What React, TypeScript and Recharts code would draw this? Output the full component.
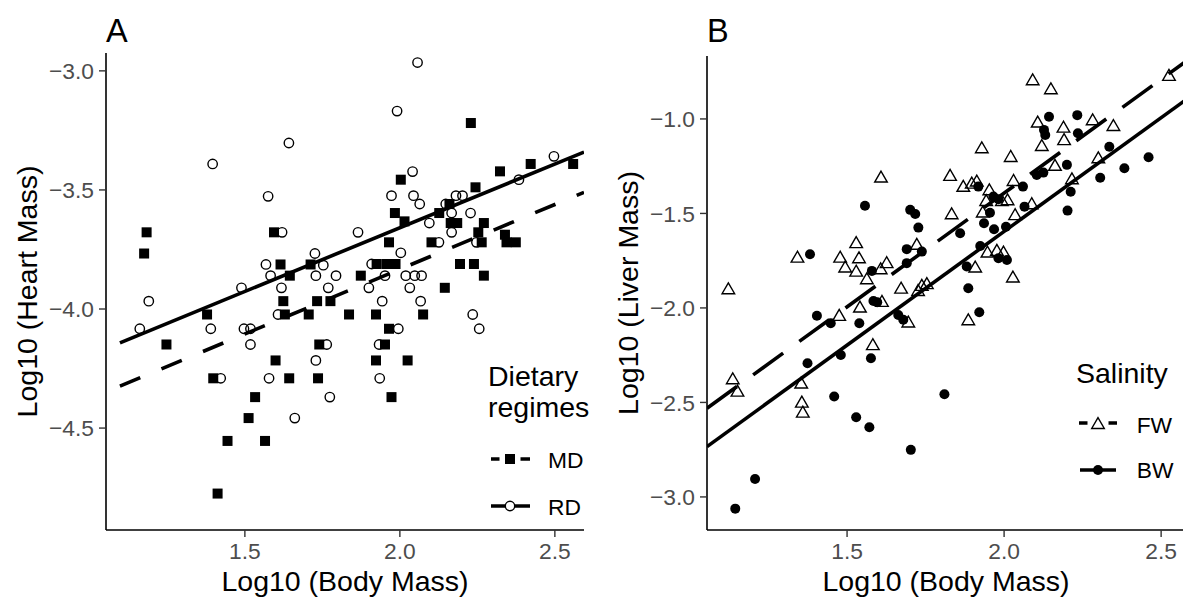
import React from 'react';
import { ScatterChart, Scatter, XAxis, YAxis, ReferenceLine, Legend } from 'recharts';

const FONT = '"Liberation Sans", Arial, Helvetica, sans-serif';
const TICK_COLOR = '#4D4D4D';

// ---------- Panel A : Heart mass vs body mass ----------
const mdPoints: [number, number][] = [
  [1.183, -3.678], [1.175, -3.767], [1.594, -3.678], [1.615, -3.813], [1.712, -3.813],
  [2.229, -3.219], [2.422, -3.391], [2.559, -3.391], [2.323, -3.422], [2.003, -3.457],
  [2.244, -3.489], [1.984, -3.597], [2.015, -3.632], [2.127, -3.597], [2.16, -3.559],
  [2.164, -3.639], [2.185, -3.639], [2.271, -3.639], [2.253, -3.678], [1.965, -3.72],
  [2.102, -3.72], [2.264, -3.72], [2.339, -3.688], [2.344, -3.72], [2.374, -3.72],
  [1.925, -3.811], [1.957, -3.811], [1.986, -3.811], [2.194, -3.811], [2.239, -3.811],
  [1.874, -3.86], [2.271, -3.86], [1.645, -3.86], [1.624, -3.967], [1.733, -3.967],
  [1.776, -3.967], [1.378, -4.023], [1.629, -4.023], [1.706, -4.023], [1.836, -4.023],
  [1.247, -4.149], [1.74, -4.149], [1.599, -4.216], [1.398, -4.291], [1.643, -4.291],
  [1.736, -4.291], [1.533, -4.37], [1.512, -4.458], [1.444, -4.554], [1.565, -4.554],
  [1.412, -4.775], [2.145, -3.911], [1.923, -4.023], [2.075, -4.023], [1.965, -4.083],
  [1.952, -4.149], [1.923, -4.216], [2.025, -4.216], [1.973, -4.37],
];
const rdPoints: [number, number][] = [
  [1.642, -3.303], [1.396, -3.391], [1.575, -3.527], [1.62, -3.678], [1.726, -3.767],
  [1.568, -3.813], [1.753, -3.816], [1.583, -3.86], [1.729, -3.86], [1.794, -3.86],
  [2.057, -2.965], [1.991, -3.169], [2.497, -3.359], [2.384, -3.457], [2.041, -3.423],
  [1.973, -3.524], [2.044, -3.524], [2.064, -3.559], [2.148, -3.559], [2.181, -3.524],
  [2.202, -3.524], [2.167, -3.597], [2.228, -3.597], [2.095, -3.639], [1.865, -3.678],
  [2.167, -3.678], [2.126, -3.72], [2.247, -3.72], [2.003, -3.764], [1.909, -3.811],
  [1.952, -3.86], [2.019, -3.86], [2.048, -3.86], [2.07, -3.86], [1.19, -3.967],
  [1.489, -3.911], [1.618, -3.911], [1.769, -3.911], [1.607, -4.023], [1.161, -4.083],
  [1.39, -4.083], [1.497, -4.083], [1.518, -4.083], [1.518, -4.149], [1.764, -4.149],
  [1.729, -4.216], [1.422, -4.291], [1.578, -4.291], [1.774, -4.37], [1.661, -4.458],
  [1.9, -3.911], [2.032, -3.911], [1.943, -3.967], [2.067, -3.967], [2.235, -4.023],
  [1.995, -4.083], [2.256, -4.083], [1.933, -4.149], [1.935, -4.291],
];
const mdFit: [number, number][] = [[1.097, -4.324], [2.594, -3.51]];
const rdFit: [number, number][] = [[1.097, -4.142], [2.594, -3.341]];
const heartTicks = [-4.5, -4.0, -3.5, -3.0];
const bodyTicks = [1.5, 2.0, 2.5];

// ---------- Panel B : Liver mass vs body mass ----------
const fwPoints: [number, number][] = [
  [1.608, -1.305], [1.529, -1.652], [1.722, -1.661], [1.342, -1.729], [1.478, -1.729],
  [1.538, -1.732], [1.494, -1.781], [1.529, -1.803], [1.626, -1.758], [1.607, -1.79],
  [1.563, -1.843], [1.672, -1.893], [1.122, -1.896], [1.726, -1.905], [2.091, -0.79],
  [2.149, -0.838], [2.525, -0.767], [2.282, -1.002], [2.348, -1.032], [2.107, -1.014],
  [2.189, -1.041], [2.191, -1.107], [2.12, -1.138], [1.929, -1.15], [2.021, -1.196],
  [2.3, -1.203], [2.162, -1.243], [1.828, -1.296], [1.87, -1.354], [1.897, -1.337],
  [1.913, -1.326], [2.03, -1.323], [2.216, -1.314], [1.953, -1.372], [1.943, -1.429],
  [1.993, -1.429], [2.011, -1.425], [2.088, -1.446], [1.932, -1.49], [1.833, -1.499],
  [2.035, -1.504], [1.947, -1.702], [1.977, -1.693], [1.998, -1.702], [1.908, -1.781],
  [2.028, -1.834], [1.738, -1.878], [1.754, -1.869], [1.475, -2.037], [1.541, -1.993],
  [1.611, -1.963], [1.695, -2.072], [1.582, -2.192], [1.136, -2.372], [1.151, -2.438],
  [1.354, -2.395], [1.356, -2.496], [1.359, -2.549], [1.886, -2.06],
];
const bwPoints: [number, number][] = [
  [1.557, -1.459], [1.701, -1.481], [1.717, -1.503], [1.727, -1.575], [1.382, -1.716],
  [1.69, -1.689], [1.69, -1.763], [1.579, -1.804], [2.143, -0.988], [2.233, -0.98],
  [2.127, -1.058], [2.131, -1.085], [2.235, -1.076], [2.335, -1.147], [2.46, -1.203],
  [2.383, -1.261], [2.2, -1.243], [2.104, -1.296], [2.125, -1.284], [2.306, -1.311],
  [1.918, -1.358], [2.06, -1.358], [2.212, -1.385], [1.966, -1.411], [1.982, -1.425],
  [2.065, -1.464], [1.955, -1.496], [2.202, -1.485], [1.936, -1.552], [1.968, -1.584],
  [2.006, -1.57], [1.86, -1.605], [1.738, -1.702], [1.924, -1.672], [1.982, -1.737],
  [2.009, -1.746], [1.881, -1.781], [1.886, -1.896], [1.404, -2.041], [1.448, -2.081],
  [1.539, -2.081], [1.584, -1.963], [1.596, -1.97], [1.663, -2.037], [1.679, -2.063],
  [1.48, -2.249], [1.374, -2.293], [1.576, -2.266], [1.459, -2.469], [1.529, -2.578],
  [1.571, -2.631], [1.703, -2.751], [1.207, -2.905], [1.144, -3.062], [1.921, -2.023],
  [1.81, -2.457],
];
const fwFit: [number, number][] = [[1.054, -2.531], [2.576, -0.699]];
const bwFit: [number, number][] = [[1.054, -2.734], [2.576, -0.902]];
const liverTicks = [-3.0, -2.5, -2.0, -1.5, -1.0];

const toData = (pts: [number, number][]) => pts.map(([x, y]) => ({ x, y }));
const toSeg = (pts: [number, number][]) => pts.map(([x, y]) => ({ x, y }));
const fmt = (v: number) => v.toFixed(1).replace('-', '\u2212');

// ---------- point shapes (ggplot shapes 1, 15, 2, 16) ----------
const OpenCircle = (p: any) => (
  <circle cx={p.cx} cy={p.cy} r={4.7} fill="none" stroke="#000" strokeWidth={1.4} />
);
const FilledSquare = (p: any) => (
  <rect x={p.cx - 5} y={p.cy - 5} width={10} height={10} fill="#000" />
);
const OpenTriangle = (p: any) => {
  const s = 12.6;
  const h = (s * Math.sqrt(3)) / 2;
  const pts = `${p.cx},${p.cy - h / 2} ${p.cx - s / 2},${p.cy + h / 2} ${p.cx + s / 2},${p.cy + h / 2}`;
  return <polygon points={pts} fill="none" stroke="#000" strokeWidth={1.4} strokeLinejoin="miter" />;
};
const FilledCircle = (p: any) => <circle cx={p.cx} cy={p.cy} r={5} fill="#000" />;

const axisLine = { stroke: '#000', strokeWidth: 1.6 };
const tickLine = { stroke: '#333', strokeWidth: 1.4 };
const tickStyle = { fill: TICK_COLOR, fontSize: 22.8, fontFamily: FONT };

const xTitle = (props: any) => {
  const vb = props.viewBox || { x: 106, y: 530, width: 478 };
  return (
    <text x={vb.x + vb.width / 2} y={vb.y + 61} textAnchor="middle" fontSize={28.5} fontFamily={FONT} fill="#000">
      Log10 (Body Mass)
    </text>
  );
};
const yTitle = (text: string) => (props: any) => {
  const vb = props.viewBox || { y: 53, height: 477 };
  const cy = vb.y + vb.height / 2;
  const x = 37;
  return (
    <text x={x} y={cy} transform={`rotate(-90, ${x}, ${cy})`} textAnchor="middle" fontSize={28.5} fontFamily={FONT} fill="#000">
      {text}
    </text>
  );
};

const legendWrap = { position: 'absolute' as const, left: 0, top: 0, width: 0, height: 0, overflow: 'visible' as const };

const LegendA = () => (
  <svg width={600} height={599} style={{ position: 'absolute', left: 0, top: 0, overflow: 'visible' }}>
    <text x={106} y={42} fontSize={32.5} fontFamily={FONT} fill="#000">A</text>
    <text x={488} y={386} fontSize={28.5} fontFamily={FONT} fill="#000">Dietary</text>
    <text x={488} y={417} fontSize={28.5} fontFamily={FONT} fill="#000">regimes</text>
    <line x1={491} x2={499.5} y1={459} y2={459} stroke="#000" strokeWidth={3.5} />
    <line x1={520.5} x2={530} y1={459} y2={459} stroke="#000" strokeWidth={3.5} />
    <FilledSquare cx={510} cy={459} />
    <text x={548} y={468} fontSize={22.8} fontFamily={FONT} fill="#000">MD</text>
    <line x1={491} x2={530} y1={506} y2={506} stroke="#000" strokeWidth={3.5} />
    <circle cx={510} cy={506} r={4.7} fill="#fff" stroke="#000" strokeWidth={1.4} />
    <text x={548} y={515} fontSize={22.8} fontFamily={FONT} fill="#000">RD</text>
  </svg>
);

const LegendB = () => (
  <svg width={600} height={599} style={{ position: 'absolute', left: 0, top: 0, overflow: 'visible' }}>
    <text x={106} y={42} fontSize={32.5} fontFamily={FONT} fill="#000">B</text>
    <text x={475} y={383} fontSize={28.5} fontFamily={FONT} fill="#000">Salinity</text>
    <line x1={478} x2={486.5} y1={423} y2={423} stroke="#000" strokeWidth={3.5} />
    <line x1={507.5} x2={516} y1={423} y2={423} stroke="#000" strokeWidth={3.5} />
    <OpenTriangle cx={497} cy={423} />
    <text x={535.7} y={433} fontSize={22.8} fontFamily={FONT} fill="#000">FW</text>
    <line x1={479} x2={515} y1={470} y2={470} stroke="#000" strokeWidth={3.5} />
    <FilledCircle cx={497} cy={470} />
    <text x={535.7} y={478} fontSize={22.8} fontFamily={FONT} fill="#000">BW</text>
  </svg>
);

export default function App() {
  return (
    <div style={{ position: 'absolute', left: 0, top: 0, width: 1183, height: 599, overflow: 'hidden', background: '#fff', fontFamily: FONT }}>
      <div style={{ position: 'absolute', left: 0, top: 0 }}>
        <ScatterChart width={600} height={599} margin={{ top: 53, right: 16, bottom: 0, left: 0 }}>
          <XAxis
            type="number" dataKey="x" domain={[1.052, 2.594]} allowDataOverflow ticks={bodyTicks}
            tickFormatter={fmt} height={69} axisLine={axisLine} tickLine={tickLine} tickSize={7} tickMargin={6}
            tick={tickStyle} label={xTitle}
          />
          <YAxis
            type="number" dataKey="y" domain={[-4.928, -2.925]} allowDataOverflow ticks={heartTicks}
            tickFormatter={fmt} width={106} axisLine={axisLine} tickLine={tickLine} tickSize={7} tickMargin={5}
            tick={tickStyle} label={yTitle('Log10 (Heart Mass)')}
          />
          <Scatter name="MD" data={toData(mdPoints)} shape={FilledSquare} isAnimationActive={false} legendType="none" />
          <Scatter name="RD" data={toData(rdPoints)} shape={OpenCircle} isAnimationActive={false} legendType="none" />
          <ReferenceLine segment={toSeg(mdFit)} stroke="#000" strokeWidth={3.6} strokeDasharray="22 23" ifOverflow="hidden" />
          <ReferenceLine segment={toSeg(rdFit)} stroke="#000" strokeWidth={3.6} ifOverflow="hidden" />
          <Legend layout="horizontal" verticalAlign="middle" align="center" wrapperStyle={legendWrap} content={LegendA} />
        </ScatterChart>
      </div>
      <div style={{ position: 'absolute', left: 601, top: 0 }}>
        <ScatterChart width={584} height={599} margin={{ top: 56, right: 0, bottom: 0, left: 0 }}>
          <XAxis
            type="number" dataKey="x" domain={[1.054, 2.576]} allowDataOverflow ticks={bodyTicks}
            tickFormatter={fmt} height={69} axisLine={axisLine} tickLine={tickLine} tickSize={7} tickMargin={6}
            tick={tickStyle} label={xTitle}
          />
          <YAxis
            type="number" dataKey="y" domain={[-3.175, -0.667]} allowDataOverflow ticks={liverTicks}
            tickFormatter={fmt} width={106} axisLine={axisLine} tickLine={tickLine} tickSize={7} tickMargin={5}
            tick={tickStyle} label={yTitle('Log10 (Liver Mass)')}
          />
          <Scatter name="FW" data={toData(fwPoints)} shape={OpenTriangle} isAnimationActive={false} legendType="none" />
          <Scatter name="BW" data={toData(bwPoints)} shape={FilledCircle} isAnimationActive={false} legendType="none" />
          <ReferenceLine segment={toSeg(fwFit)} stroke="#000" strokeWidth={3.6} strokeDasharray="37 20" ifOverflow="hidden" />
          <ReferenceLine segment={toSeg(bwFit)} stroke="#000" strokeWidth={3.6} ifOverflow="hidden" />
          <Legend layout="horizontal" verticalAlign="middle" align="center" wrapperStyle={legendWrap} content={LegendB} />
        </ScatterChart>
      </div>
    </div>
  );
}
